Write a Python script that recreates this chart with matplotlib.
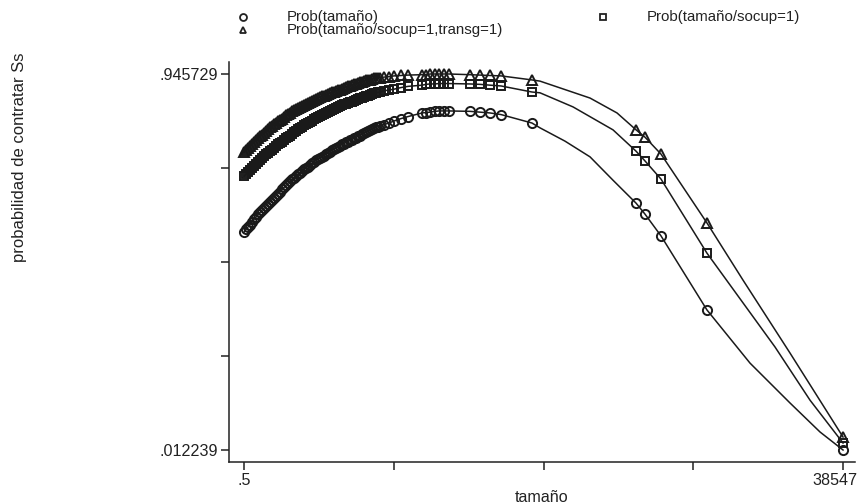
import numpy as np
import matplotlib
matplotlib.use("Agg")
import matplotlib.pyplot as plt
from matplotlib.lines import Line2D
from matplotlib.transforms import ScaledTranslation

plt.rcParams['font.family'] = ['Liberation Sans', 'DejaVu Sans']

# Datos: tamaño (eje x) y probabilidades predichas para las tres series
tamano = [0.5, 129, 258, 387, 515, 644, 773, 901, 1030, 1159, 1288, 1416,
          1545, 1674, 1802, 1931, 2060, 2188, 2317, 2446, 2574, 2703, 2832,
          2960, 3089, 3218, 3347, 3475, 3604, 3733, 3861, 3990, 4119, 4247,
          4376, 4505, 4634, 4762, 4891, 5020, 5148, 5277, 5406, 5534, 5663,
          5792, 5921, 6049, 6178, 6307, 6435, 6564, 6693, 6821, 6950, 7079,
          7208, 7336, 7465, 7594, 7722, 7851, 7980, 8108, 8237, 8366, 8495,
          8623, 8752,
          9010, 9330, 9650, 10100, 10550, 11460, 11710, 11970, 12290,
          12550, 12870, 13190, 14540, 15190, 15830, 16540, 18530, 25230,
          25800, 26830, 29790, 38547]

prob_tam = [0.553, 0.560, 0.566, 0.572, 0.578, 0.585, 0.591, 0.597, 0.602,
            0.608, 0.613, 0.619, 0.624, 0.629, 0.634, 0.639, 0.644, 0.649,
            0.654, 0.659, 0.664, 0.670, 0.675, 0.680, 0.684, 0.688, 0.692,
            0.697, 0.701, 0.705, 0.709, 0.713, 0.716, 0.720, 0.724, 0.728,
            0.731, 0.734, 0.737, 0.740, 0.743, 0.747, 0.750, 0.753, 0.756,
            0.759, 0.762, 0.765, 0.768, 0.771, 0.773, 0.776, 0.778, 0.781,
            0.783, 0.786, 0.788, 0.791, 0.793, 0.796, 0.798, 0.801, 0.803,
            0.806, 0.808, 0.811, 0.813, 0.815, 0.817,
            0.820, 0.824, 0.829, 0.835, 0.840, 0.849, 0.850, 0.851, 0.853,
            0.854, 0.854, 0.854, 0.853, 0.851, 0.849, 0.845, 0.824, 0.625,
            0.598, 0.544, 0.360, 0.012239]

prob_socup = [0.692, 0.697, 0.702, 0.707, 0.712, 0.717, 0.722, 0.727, 0.732,
              0.737, 0.741, 0.746, 0.750, 0.754, 0.758, 0.763, 0.767, 0.771,
              0.774, 0.778, 0.782, 0.786, 0.789, 0.793, 0.797, 0.801, 0.804,
              0.808, 0.812, 0.815, 0.818, 0.821, 0.824, 0.827, 0.830, 0.833,
              0.836, 0.839, 0.841, 0.844, 0.846, 0.849, 0.851, 0.854, 0.856,
              0.859, 0.861, 0.864, 0.866, 0.868, 0.870, 0.872, 0.874, 0.876,
              0.877, 0.879, 0.881, 0.883, 0.885, 0.887, 0.889, 0.891, 0.892,
              0.894, 0.896, 0.898, 0.899, 0.900, 0.901,
              0.904, 0.906, 0.908, 0.912, 0.915, 0.918, 0.920, 0.921, 0.921,
              0.922, 0.922, 0.922, 0.921, 0.920, 0.918, 0.916, 0.901, 0.754,
              0.730, 0.685, 0.501, 0.0296]

prob_transg = [0.752, 0.757, 0.762, 0.767, 0.772, 0.777, 0.782, 0.787, 0.791,
               0.795, 0.799, 0.804, 0.808, 0.813, 0.817, 0.821, 0.824, 0.828,
               0.831, 0.835, 0.839, 0.843, 0.846, 0.850, 0.853, 0.856, 0.859,
               0.862, 0.864, 0.867, 0.869, 0.872, 0.874, 0.877, 0.879, 0.882,
               0.884, 0.887, 0.889, 0.891, 0.892, 0.894, 0.896, 0.898, 0.900,
               0.902, 0.904, 0.906, 0.907, 0.909, 0.911, 0.913, 0.915, 0.917,
               0.918, 0.920, 0.922, 0.924, 0.926, 0.927, 0.928, 0.930, 0.931,
               0.932, 0.933, 0.935, 0.936, 0.937, 0.937,
               0.938, 0.939, 0.941, 0.942, 0.943, 0.944, 0.944, 0.945729,
               0.945729, 0.945729, 0.945729, 0.945729, 0.944, 0.943, 0.942,
               0.941, 0.931, 0.807, 0.789, 0.747, 0.576, 0.0445]

# puntos extra de la curva suavizada (solo línea, sin marcador)
curva_x_tam = [19048, 20657, 22266, 23746, 32561, 35135, 37066]
curva_y_tam = [0.812, 0.779, 0.740, 0.682, 0.228, 0.129, 0.057]
curva_x_socup = [19048, 21172, 23746, 34170, 36422]
curva_y_socup = [0.899, 0.864, 0.807, 0.268, 0.136]
curva_x_transg = [19048, 22266, 24003, 32111, 35135]
curva_y_transg = [0.928, 0.886, 0.849, 0.434, 0.253]

ymin, ymax = 0.012239, 0.945729
xmin, xmax = 0.5, 38547

fig = plt.figure(figsize=(8.6, 5.04), dpi=100)
ax = fig.add_axes([0.2663, 0.0833, 0.7279, 0.7937])

series = [
    (prob_tam, curva_x_tam, curva_y_tam, 'o', 6.6),
    (prob_socup, curva_x_socup, curva_y_socup, 's', 6.3),
    (prob_transg, curva_x_transg, curva_y_transg, '^', 7.0),
]

for ys, cx, cy, mk, ms in series:
    lx = np.array(list(tamano) + cx)
    ly = np.array(list(ys) + cy)
    orden = np.argsort(lx)
    ax.plot(lx[orden], ly[orden], color='#1a1a1a', lw=1.1, zorder=2)
    ax.plot(tamano, ys, linestyle='none', marker=mk, ms=ms,
            mfc='none', mec='#1a1a1a', mew=1.4, zorder=3)

ax.set_xlim(-965, 39318)
ax.set_ylim(-0.01756, 0.97552)

ax.set_yticks(np.linspace(ymin, ymax, 5))
ax.set_yticklabels(['.012239', '', '', '', '.945729'])
ax.set_xticks(np.linspace(xmin, xmax, 5))
ax.set_xticklabels(['.5', '', '', '', '38547'])

for s in ['top', 'right']:
    ax.spines[s].set_visible(False)
for s in ['left', 'bottom']:
    ax.spines[s].set_linewidth(1.1)
    ax.spines[s].set_color('#222222')

ax.tick_params(direction='out', length=6, width=1.1, colors='#222222',
               labelsize=11.6, labelcolor='#222222', pad=2)
ultimo = ax.get_xticklabels()[-1]
ultimo.set_transform(ultimo.get_transform()
                     + ScaledTranslation(-0.08, 0, fig.dpi_scale_trans))

ax.set_xlabel('tamaño', fontsize=11.6, color='#222222', labelpad=1)
fig.text(20 / 860, 1 - 52 / 504, 'probabilidad de contratar Ss', rotation=90,
         ha='center', va='top', fontsize=12, color='#222222')

# leyenda manual arriba
leyenda = [
    ('o', 243, 17, 287, 'Prob(tamaño)'),
    ('s', 603, 17, 647, 'Prob(tamaño/socup=1)'),
    ('^', 243, 30, 287, 'Prob(tamaño/socup=1,transg=1)'),
]
for mk, mx, my, tx, txt in leyenda:
    fig.add_artist(Line2D([mx / 860], [1 - my / 504], marker=mk, ms=5,
                          mfc='none', mec='#222222', mew=1.3, linestyle='none',
                          transform=fig.transFigure))
    fig.text(tx / 860, 1 - my / 504, txt, ha='left', va='center',
             fontsize=10.8, color='#222222')

fig.savefig('out.png', dpi=100)
